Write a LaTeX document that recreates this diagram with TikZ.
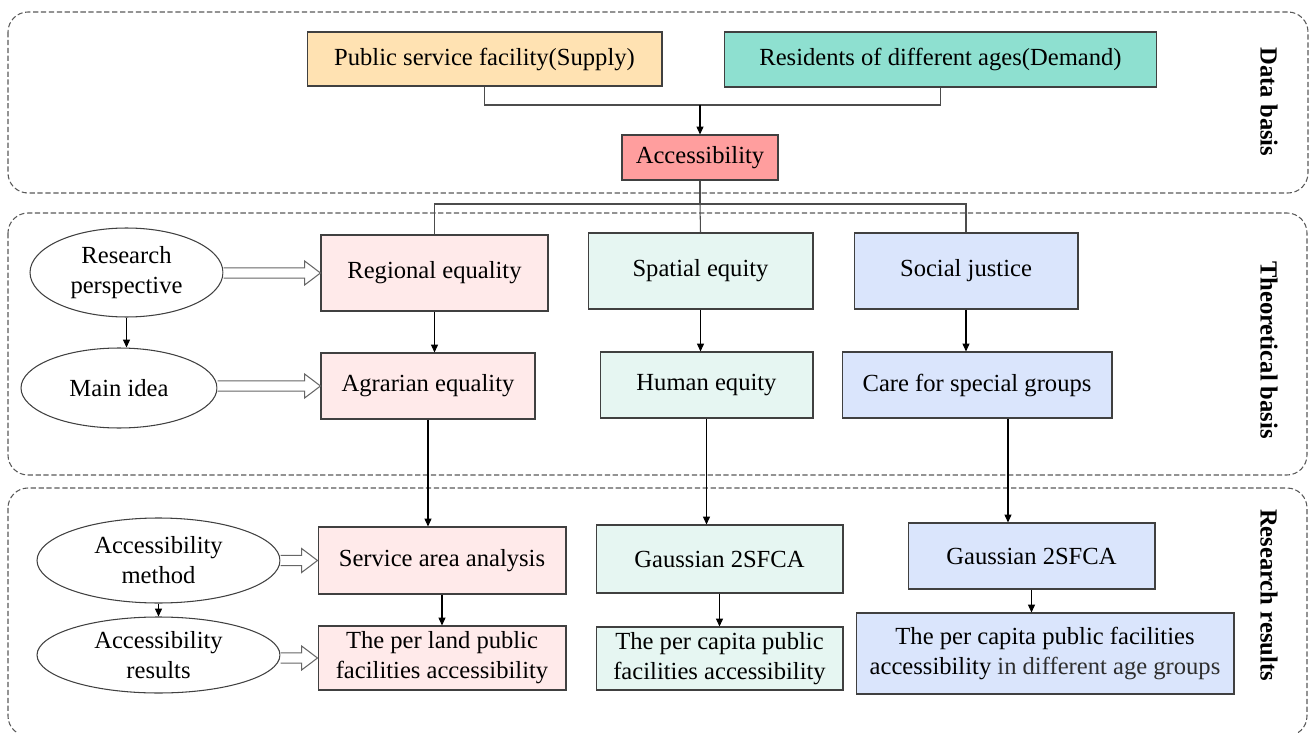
\documentclass[tikz,border=0pt]{standalone}
\usepackage{fontspec}
\setmainfont{Liberation Serif}
\usepackage{xcolor}
\usepackage{tikz}
\usetikzlibrary{arrows.meta,positioning,calc,shapes.geometric}
\definecolor{SupplyOrange}{RGB}{255,226,178}
\definecolor{DemandTeal}{RGB}{142,224,208}
\definecolor{AccRed}{RGB}{255,158,158}
\definecolor{EqPink}{RGB}{255,234,234}
\definecolor{EqMint}{RGB}{230,246,242}
\definecolor{EqBlue}{RGB}{218,229,252}
\definecolor{boxline}{RGB}{64,64,64}

% hollow block arrow from an oval to a box
\newcommand\fatarrow[2]{%
  \draw[fat] let \p1=(#1.east), \p2=(#2.west) in
    (\x1,\y2+2.9pt) -- (\x2-9pt,\y2+2.9pt) -- (\x2-9pt,\y2+6.8pt) -- (\x2,\y2)
    -- (\x2-9pt,\y2-6.8pt) -- (\x2-9pt,\y2-2.9pt) -- (\x1,\y2-2.9pt);}

\begin{document}
\begin{tikzpicture}[
      x=0.02cm,y=-0.02cm,
      font=\fontsize{14pt}{17pt}\selectfont,
      box/.style={draw=boxline,line width=0.6pt,align=center,inner sep=2pt},
      oval/.style={ellipse,draw=boxline,line width=0.6pt,align=center,inner sep=0pt,fill=white},
      panel/.style={draw=black!65,dash pattern=on 3pt off 1.5pt,line width=0.6pt,rounded corners=0.4cm},
      side/.style={rotate=-90,font=\fontsize{14pt}{17pt}\selectfont\bfseries},
      link/.style={draw=black!70,line width=0.6pt},
      flow/.style={draw=black,line width=0.6pt,-{Triangle[length=4.5pt,width=4pt]}},
      fat/.style={draw=black!60,line width=0.6pt,fill=white}
    ]
    \useasboundingbox (0,0) rectangle (1315,733);

    % the three layers
    \draw[panel] (8,12) rectangle (1308,193);
    \draw[panel] (8,213) rectangle (1307,475);
    \draw[panel] (8,488) rectangle (1307,736);
    \node[side] (databasis) at (1269,102) {Data basis};
    \node[side] (theobasis) at (1269,350) {Theoretical basis};
    \node[side] (resresults) at (1269,595) {Research results};

    % data basis
    \node[box,fill=SupplyOrange,minimum width=7.1cm,minimum height=1.08cm] (supply) at (484.5,59) {Public service facility(Supply)};
    \node[box,fill=DemandTeal,minimum width=8.66cm,minimum height=1.1cm] (demand) at (940.5,59.5) {Residents of different ages(Demand)};
    \node[box,fill=AccRed,minimum width=3.12cm,minimum height=0.9cm] (access) at (700,157.5) {Accessibility};

    % theoretical basis
    \node[oval,minimum width=3.86cm,minimum height=1.78cm] (persp) at (126.5,272.5) {Research\\perspective};
    \node[oval,minimum width=3.92cm,minimum height=1.6cm] (mainidea) at (119,388) {Main idea};
    \node[box,fill=EqPink,minimum width=4.54cm,minimum height=1.52cm] (regional) at (434.5,273) {Regional equality};
    \node[box,fill=EqMint,minimum width=4.5cm,minimum height=1.52cm] (spatial) at (700.5,271) {Spatial equity};
    \node[box,fill=EqBlue,minimum width=4.48cm,minimum height=1.52cm] (social) at (966,271) {Social justice};
    \node[box,fill=EqPink,minimum width=4.28cm,minimum height=1.32cm] (agrarian) at (428,386) {Agrarian equality};
    \node[box,fill=EqMint,minimum width=4.26cm,minimum height=1.32cm] (human) at (706.5,385) {Human equity};
    \node[box,fill=EqBlue,minimum width=5.4cm,minimum height=1.32cm] (care) at (977,385) {Care for special groups};

    % research results
    \node[oval,minimum width=4.86cm,minimum height=1.7cm] (method) at (158.5,560.5) {Accessibility\\method};
    \node[oval,minimum width=4.86cm,minimum height=1.52cm] (results) at (158.5,655) {Accessibility\\results};
    \node[box,fill=EqPink,minimum width=4.96cm,minimum height=1.34cm] (service) at (442,560.5) {Service area analysis};
    \node[box,fill=EqMint,minimum width=4.94cm,minimum height=1.36cm] (gaussA) at (719.5,559) {Gaussian 2SFCA};
    \node[box,fill=EqBlue,minimum width=4.94cm,minimum height=1.32cm] (gaussB) at (1031.5,556) {Gaussian 2SFCA};
    \node[box,fill=EqPink,minimum width=4.96cm,minimum height=1.28cm] (perland) at (442,658) {The per land public\\facilities accessibility};
    \node[box,fill=EqMint,minimum width=4.94cm,minimum height=1.26cm] (percapita) at (719.5,658.5) {The per capita public\\facilities accessibility};
    \node[box,fill=EqBlue,minimum width=7.56cm,minimum height=1.62cm] (perage) at (1045,653.5) {The per capita public facilities\\accessibility {\color{black!82}in different age groups}};

    % supply and demand meet in accessibility
    \coordinate (join) at (700,105);
    \draw[link] (supply.south) |- (join) -| (demand.south);
    \draw[flow] (join) -- (access.north);
    \coordinate (split) at (700,204);
    \draw[link] (access.south) -- (split);
    \draw[link] (regional.north) |- (split) -| (social.north);
    \draw[link] (split) -- (spatial.north);

    % columns
    \draw[flow] (regional.south) -- (regional.south |- agrarian.north);
    \draw[flow] (spatial.south) -- (spatial.south |- human.north);
    \draw[flow] (social.south) -- (social.south |- care.north);
    \draw[flow] (agrarian.south) -- (agrarian.south |- service.north);
    \draw[flow] (human.south) -- (human.south |- gaussA.north);
    \coordinate (careout) at ([xshift=0.62cm]care.south);
    \draw[flow] (careout) -- (careout |- gaussB.north);
    \draw[flow] (service.south) -- (perland.north);
    \draw[flow] (gaussA.south) -- (gaussA.south |- percapita.north);
    \draw[flow] (gaussB.south) -- (gaussB.south |- perage.north);

    % row headings
    \draw[flow] (persp.south) -- (persp.south |- mainidea.north);
    \draw[flow] (method.south) -- (method.south |- results.north);
    \fatarrow{persp}{regional}
    \fatarrow{mainidea}{agrarian}
    \fatarrow{method}{service}
    \fatarrow{results}{perland}
  \end{tikzpicture}
\end{document}
